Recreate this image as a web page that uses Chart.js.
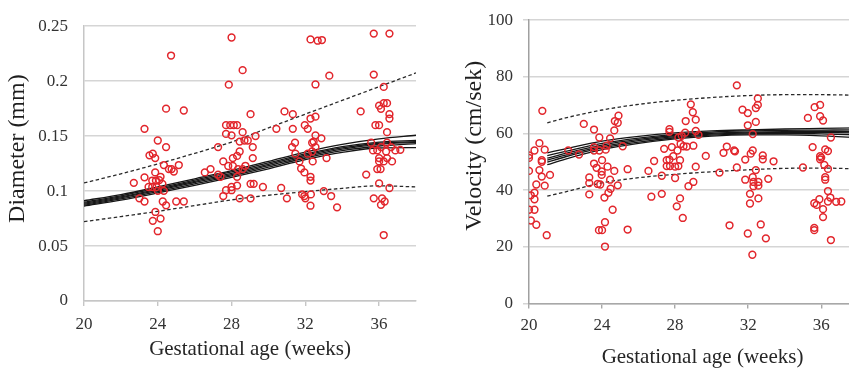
<!DOCTYPE html>
<html>
<head>
<meta charset="utf-8">
<script src="https://cdn.jsdelivr.net/npm/chart.js@4.4.1/dist/chart.umd.min.js"></script>
<style>
  html, body { margin: 0; padding: 0; background: #fff; overflow: hidden; width: 849px; height: 372px; }
  #wrapL { position: absolute; left: 0; top: 0; width: 430px; height: 372px; }
  #wrapR { position: absolute; left: 430px; top: 0; width: 460px; height: 372px; }
</style>
</head>
<body>
<div id="wrapL"><canvas id="diam" width="430" height="372"></canvas></div>
<div id="wrapR"><canvas id="vel" width="460" height="372"></canvas></div>
<script>
// ---- Tick values and labels ----
const weekTicks = [20, 24, 28, 32, 36];
const diamTicks = [0, 0.05, 0.1, 0.15, 0.2, 0.25];
const diamTickLabels = ['0', '0.05', '0.1', '0.15', '0.2', '0.25'];
const velTicks = [0, 20, 40, 60, 80, 100];
const velTickLabels = ['0', '20', '40', '60', '80', '100'];

// ---- Diameter measurements (weeks, mm) ----
const diamWeeks = [
  22.7, 23.28, 23.28, 23.0, 23.28, 23.55, 23.73, 23.86, 24.0, 23.86, 24.15, 23.7, 23.9, 24.08, 23.5, 23.7, 23.93, 24.25, 24.0, 24.33,
  24.33, 24.45, 24.45, 24.72, 24.6, 24.87, 24.75, 25.14, 25.41, 25.0, 25.41, 24.27, 24.45, 23.87, 23.73, 24.15, 24.0,
  26.55, 26.86, 27.27, 27.27, 27.4, 27.55, 27.55, 27.7, 28.0, 28.0, 27.85, 28.6, 27.7, 27.93, 28.12, 28.3, 27.7, 28.0, 28.6, 28.44,
  28.7, 28.88, 29.03, 29.3, 29.15, 28.44, 28.3, 28.07, 27.82, 28.07, 28.35, 28.6, 28.75, 28.3, 29.15, 28.0, 28.3, 29.03, 29.2,
  28.44, 29.03, 29.7,
  30.43, 30.87, 31.32, 31.32, 31.44, 31.28, 31.46, 31.68, 31.77, 31.95, 31.97, 32.13, 32.28, 32.55, 32.55, 32.37, 32.45, 32.55,
  32.37, 32.13, 32.4, 32.87, 32.28, 32.28, 30.69, 31.0, 31.83, 31.95, 32.0, 32.3, 32.28, 33.0, 33.15, 33.4, 33.72, 32.28, 32.67,
  32.9, 32.55, 33.3,
  35.0, 35.3, 35.57, 35.71, 35.71, 36.56, 36.25, 35.8, 36.0, 36.0, 36.1, 36.25, 36.43, 36.56, 36.56, 36.43, 35.67, 35.9, 36.1,
  36.43, 36.65, 36.88, 37.15, 36.0, 36.0, 36.25, 36.43, 36.7, 36.38, 35.9, 36.08, 36.0, 36.56, 35.71, 36.16, 36.3, 36.1, 36.25
];
const diamValues = [
  0.1075, 0.1566, 0.1125, 0.0934, 0.0905, 0.1325, 0.134, 0.130, 0.146, 0.117, 0.113, 0.1096, 0.1096, 0.110, 0.1037, 0.1037, 0.1037, 0.1066, 0.1002, 0.1002,
  0.1237, 0.140, 0.175, 0.2233, 0.120, 0.1178, 0.120, 0.1237, 0.1733, 0.0905, 0.0905, 0.0905, 0.087, 0.081, 0.0729, 0.075, 0.0635,
  0.117, 0.120, 0.140, 0.115, 0.113, 0.127, 0.0955, 0.1008, 0.1008, 0.2397, 0.1968, 0.210, 0.160, 0.160, 0.160, 0.160, 0.152, 0.1507, 0.1536, 0.145,
  0.146, 0.146, 0.170, 0.150, 0.140, 0.136, 0.132, 0.130, 0.1228, 0.1228, 0.120, 0.120, 0.123, 0.113, 0.130, 0.1037, 0.105, 0.1066, 0.1066,
  0.0934, 0.0934, 0.1037,
  0.1566, 0.1725, 0.170, 0.1566, 0.144, 0.140, 0.134, 0.127, 0.1205, 0.117, 0.160, 0.1566, 0.166, 0.1677, 0.1507, 0.144, 0.145, 0.140,
  0.136, 0.134, 0.127, 0.148, 0.113, 0.1096, 0.1028, 0.0934, 0.097, 0.0955, 0.0934, 0.097, 0.0867, 0.100, 0.130, 0.0955, 0.0852, 0.238, 0.2368,
  0.2374, 0.197, 0.205,
  0.1725, 0.115, 0.144, 0.2433, 0.206, 0.2433, 0.1948, 0.160, 0.160, 0.1777, 0.1748, 0.180, 0.180, 0.170, 0.166, 0.1536, 0.137, 0.137, 0.140,
  0.144, 0.140, 0.137, 0.1375, 0.130, 0.127, 0.127, 0.130, 0.127, 0.136, 0.120, 0.120, 0.107, 0.1028, 0.0934, 0.0934, 0.0905, 0.0875, 0.060
];

// ---- Diameter reference curves ----
const diamCurveWeeks = [20, 22, 24, 26, 28, 30, 32, 34, 36, 38];
const diamFitA = [0.0912, 0.0968, 0.1038, 0.1112, 0.1187, 0.1270, 0.1355, 0.1425, 0.1475, 0.1508];
const diamFitB = [0.0900, 0.0957, 0.1026, 0.1100, 0.1174, 0.1256, 0.1338, 0.1405, 0.1445, 0.1460];
const diamFitC = [0.0890, 0.0948, 0.1016, 0.1089, 0.1162, 0.1243, 0.1326, 0.1393, 0.1435, 0.1450];
const diamFitD = [0.0881, 0.0939, 0.1006, 0.1078, 0.1150, 0.1231, 0.1313, 0.1381, 0.1425, 0.1443];
const diamFitE = [0.0872, 0.0929, 0.0995, 0.1066, 0.1138, 0.1218, 0.1301, 0.1368, 0.1410, 0.1432];
const diamFitF = [0.0863, 0.0918, 0.0983, 0.1052, 0.1124, 0.1202, 0.1286, 0.1352, 0.1392, 0.1395];
const diamUpper = [0.1074, 0.1157, 0.1247, 0.1343, 0.1446, 0.1575, 0.1700, 0.1825, 0.1950, 0.2075];
const diamLower = [0.0722, 0.0768, 0.0816, 0.0868, 0.0920, 0.0962, 0.0995, 0.1025, 0.1048, 0.1038];

// ---- Velocity measurements (weeks, cm/sek) ----
const velWeeks = [
  20.0, 20.0, 20.0, 20.0, 20.1, 20.3, 20.1, 20.3, 20.3, 20.3, 20.4, 20.4, 20.57, 20.57, 20.7, 20.7, 20.73, 20.7, 20.86, 20.86, 20.97, 21.15,
  22.15, 22.74, 23.0, 23.3, 23.3, 23.3, 23.56, 23.56, 23.56, 23.56, 23.7, 23.76, 23.85, 23.85, 23.9, 23.83, 24.0, 24.0, 23.98, 23.98,
  24.13, 24.16, 24.16, 24.2, 24.25, 24.3, 24.35, 24.44, 24.44, 24.47, 24.58, 24.67, 24.67, 24.7, 24.86, 24.9, 24.86, 25.13, 25.4, 25.4,
  26.54, 26.7, 26.85, 27.27, 27.27, 27.4, 27.54, 27.54, 27.69, 27.69, 27.69, 27.72, 27.82, 27.9, 28.0, 28.0, 28.09, 28.13, 28.18, 28.18,
  28.27, 28.27, 28.3, 28.36, 28.46, 28.42, 28.55, 28.58, 28.64, 28.73, 28.86, 28.97, 29.0, 29.0, 29.13, 29.13, 29.13, 29.28, 29.68,
  30.43, 30.65, 30.83, 30.98, 31.23, 31.28, 31.38, 31.38, 31.69, 31.84, 31.84, 31.98, 31.98, 31.98, 32.1, 32.1, 32.14, 32.23, 32.25,
  32.25, 32.25, 32.29, 32.29, 32.42, 32.42, 32.42, 32.53, 32.53, 32.56, 32.56, 32.56, 32.69, 32.8, 32.8, 32.97, 33.1, 33.39,
  35.0, 35.27, 35.53, 35.62, 35.62, 35.62, 35.64, 35.75, 35.9, 35.94, 35.94, 35.94, 35.94, 36.0, 36.1, 36.1, 36.1, 36.22, 36.17, 36.22,
  36.22, 36.37, 36.37, 36.37, 36.37, 36.53, 36.5, 36.53, 36.82, 37.1
];
const velValues = [
  51.4, 52.3, 46.8, 33.1, 29.3, 54.0, 38.2, 39.1, 36.8, 33.1, 42.0, 27.8, 56.6, 47.1, 50.6, 50.0, 68.0, 44.8, 54.3, 41.6, 24.1, 45.4,
  54.0, 52.6, 63.4, 44.5, 42.5, 38.5, 61.4, 55.2, 54.0, 49.4, 47.9, 42.2, 58.6, 54.0, 42.0, 25.9, 25.9, 50.6, 46.6, 45.4,
  37.4, 28.7, 20.1, 54.3, 55.7, 48.3, 39.1, 58.3, 43.7, 40.5, 33.1, 46.8, 61.1, 64.4, 63.8, 66.3, 41.7, 55.5, 47.4, 26.1,
  46.8, 37.7, 50.3, 45.1, 38.7, 54.6, 50.6, 48.5, 61.5, 60.6, 50.8, 48.5, 55.2, 52.0, 44.3, 48.3, 34.3, 54.0, 48.5, 58.6,
  50.6, 37.1, 56.3, 59.2, 55.5, 30.2, 60.3, 64.4, 55.4, 41.4, 70.3, 67.5, 55.7, 42.9, 64.9, 60.9, 48.3, 59.5, 52.1,
  46.2, 53.2, 55.4, 27.6, 54.0, 53.7, 77.0, 48.0, 68.4, 43.7, 50.8, 67.2, 62.9, 24.7, 38.7, 35.3, 52.9, 17.2, 59.8,
  54.0, 44.6, 42.9, 41.4, 64.1, 69.0, 47.1, 72.4, 70.1, 42.9, 41.6, 37.1, 27.9, 52.3, 50.9, 23.0, 44.0, 50.2,
  48.0, 65.5, 55.2, 35.4, 26.7, 25.9, 69.3, 34.8, 36.8, 70.1, 66.1, 52.0, 50.9, 51.5, 64.6, 33.3, 30.5, 54.4, 48.9, 44.6,
  43.7, 53.8, 47.5, 39.7, 36.0, 58.6, 37.4, 22.4, 35.9, 36.0
];

// ---- Velocity reference curves ----
const velCurveWeeks = [21, 22, 24, 26, 28, 30, 32, 34, 36, 38, 39];
const velFitA = [53.2, 54.6, 57.3, 59.0, 60.2, 60.9, 61.3, 61.6, 61.8, 62.0, 62.1];
const velFitB = [52.2, 53.7, 56.5, 58.4, 59.7, 60.5, 60.9, 61.1, 61.2, 61.3, 61.3];
const velFitC = [51.3, 53.0, 55.9, 57.9, 59.3, 60.1, 60.5, 60.7, 60.8, 60.7, 60.6];
const velFitD = [50.6, 52.4, 55.4, 57.5, 58.9, 59.8, 60.2, 60.4, 60.4, 60.2, 60.0];
const velFitE = [49.9, 51.8, 54.9, 57.0, 58.5, 59.4, 59.9, 60.0, 59.9, 59.5, 59.2];
const velFitF = [49.0, 51.0, 54.3, 56.5, 58.1, 59.1, 59.5, 59.5, 59.2, 58.6, 58.2];
const velUpper = [63.8, 65.5, 68.3, 70.3, 71.7, 72.7, 73.4, 73.7, 73.7, 73.5, 73.3];
const velLower = [37.9, 39.4, 42.6, 44.4, 45.6, 46.5, 47.2, 47.7, 47.8, 47.5, 47.3];

// ---- Helpers ----
const SERIF = "'Liberation Serif', 'Times New Roman', serif";
const pts = (xs, ys) => xs.map((x, i) => ({ x: x, y: ys[i] }));

function scatterSet(xs, ys) {
  return {
    data: pts(xs, ys), order: 0, showLine: false,
    pointStyle: 'circle', pointRadius: 3.4, pointBorderWidth: 1.5,
    pointBorderColor: '#e2262c', pointBackgroundColor: 'rgba(0,0,0,0)'
  };
}
function fitSet(xs, ys) {
  return {
    data: pts(xs, ys), order: 1, showLine: true, pointRadius: 0,
    borderColor: '#161616', borderWidth: 1.3, cubicInterpolationMode: 'monotone', fill: false
  };
}
function limitSet(xs, ys) {
  return {
    data: pts(xs, ys), order: 1, showLine: true, pointRadius: 0,
    borderColor: '#2a2a2a', borderWidth: 1.3, borderDash: [3.5, 2.5], cubicInterpolationMode: 'monotone', fill: false
  };
}

// Rotated y-axis title, centred a little above the middle of the plot
const sideTitle = {
  id: 'sideTitle',
  afterDraw(chart, args, opts) {
    const { ctx, chartArea } = chart;
    ctx.save();
    ctx.translate(opts.x, (chartArea.top + chartArea.bottom) / 2 + opts.shift);
    ctx.rotate(-Math.PI / 2);
    ctx.font = opts.size + 'px ' + SERIF;
    ctx.fillStyle = '#1e1e1e';
    ctx.textAlign = 'center';
    ctx.textBaseline = 'middle';
    ctx.fillText(opts.text, 0, 0);
    ctx.restore();
  }
};

function makeChart(id, cfg) {
  return new Chart(document.getElementById(id), {
    type: 'scatter',
    data: { datasets: cfg.datasets },
    plugins: [sideTitle],
    options: {
      responsive: false, animation: false,
      layout: { padding: cfg.padding },
      plugins: {
        legend: { display: false }, tooltip: { enabled: false },
        sideTitle: cfg.yTitle
      },
      scales: {
        x: {
          type: 'linear', min: 20, max: cfg.xMax,
          afterBuildTicks: s => { s.ticks = weekTicks.map(v => ({ value: v })); },
          afterFit: s => { s.height = cfg.xHeight; },
          grid: { display: true, drawOnChartArea: false, drawTicks: true, tickLength: 5, color: cfg.xAxisColor, lineWidth: 1.4 },
          border: { display: true, color: cfg.xAxisColor, width: 1.4 },
          ticks: { font: { family: SERIF, size: 17 }, color: '#333', padding: cfg.xPad, maxRotation: 0, autoSkip: false },
          title: { display: true, text: 'Gestational age (weeks)', font: { family: SERIF, size: 21 }, color: '#262626', padding: { top: 0, bottom: 0 } }
        },
        y: {
          type: 'linear', min: cfg.yTicks[0], max: cfg.yTicks[cfg.yTicks.length - 1],
          afterBuildTicks: s => { s.ticks = cfg.yTicks.map(v => ({ value: v })); },
          afterFit: s => { s.width = cfg.yWidth; },
          grid: { color: '#d5d5d5', lineWidth: 1.5, drawTicks: cfg.yTickMarks, tickLength: 6 },
          border: { display: true, color: cfg.yAxisColor, width: 1.5 },
          ticks: { font: { family: SERIF, size: 17 }, color: '#333', padding: cfg.yPad, autoSkip: false,
                   callback: (v, i) => cfg.yLabels[i] }
        }
      }
    }
  });
}

makeChart('diam', {
  datasets: [
    scatterSet(diamWeeks, diamValues),
    fitSet(diamCurveWeeks, diamFitA), fitSet(diamCurveWeeks, diamFitB), fitSet(diamCurveWeeks, diamFitC),
    fitSet(diamCurveWeeks, diamFitD), fitSet(diamCurveWeeks, diamFitE), fitSet(diamCurveWeeks, diamFitF),
    limitSet(diamCurveWeeks, diamUpper), limitSet(diamCurveWeeks, diamLower)
  ],
  padding: { top: 17, right: 14, bottom: 10, left: 0 },
  xMax: 38, xHeight: 61, xPad: 8, xAxisColor: '#c6c6c6',
  yTicks: diamTicks, yLabels: diamTickLabels, yWidth: 84, yPad: 16, yTickMarks: false, yAxisColor: '#c6c6c6',
  yTitle: { text: 'Diameter (mm)', x: 18, shift: -15, size: 24 }
});

makeChart('vel', {
  datasets: [
    scatterSet(velWeeks, velValues),
    fitSet(velCurveWeeks, velFitA), fitSet(velCurveWeeks, velFitB), fitSet(velCurveWeeks, velFitC),
    fitSet(velCurveWeeks, velFitD), fitSet(velCurveWeeks, velFitE), fitSet(velCurveWeeks, velFitF),
    limitSet(velCurveWeeks, velUpper), limitSet(velCurveWeeks, velLower)
  ],
  padding: { top: 13, right: 14, bottom: 1.5, left: 0 },
  xMax: 39, xHeight: 67, xPad: 7, xAxisColor: '#a8a8a8',
  yTicks: velTicks, yLabels: velTickLabels, yWidth: 99, yPad: 10, yTickMarks: true, yAxisColor: '#a0a0a0',
  yTitle: { text: 'Velocity (cm/sek)', x: 45, shift: -16, size: 24 }
});
</script>
</body>
</html>
